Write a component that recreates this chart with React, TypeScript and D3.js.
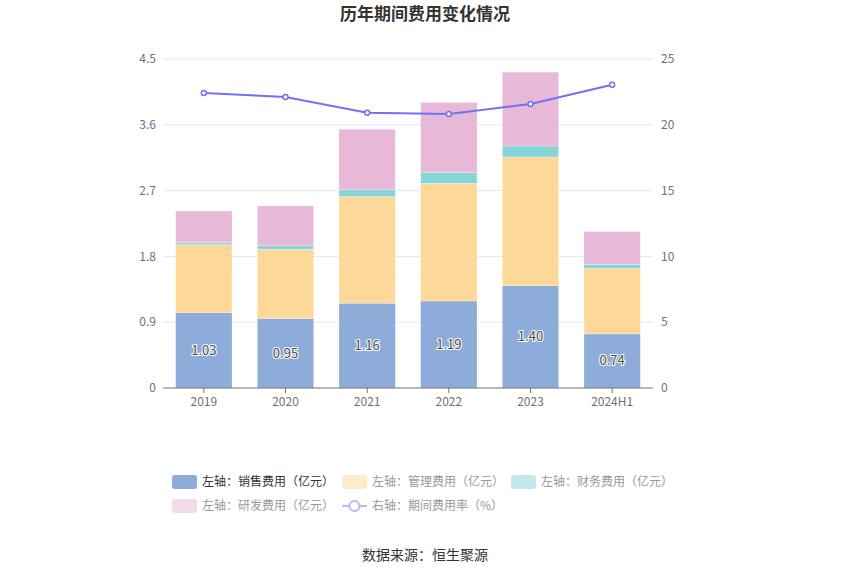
import React from 'react';
import * as d3 from 'd3';

const years = ['2019', '2020', '2021', '2022', '2023', '2024H1'];
const sales = [1.03, 0.95, 1.16, 1.19, 1.4, 0.74];
const admin = [0.93, 0.95, 1.46, 1.61, 1.76, 0.9];
const finance = [0.03, 0.05, 0.09, 0.145, 0.15, 0.05];
const rnd = [0.43, 0.54, 0.83, 0.96, 1.01, 0.45];
const rate = [22.42, 22.11, 20.92, 20.82, 21.58, 23.05];
const leftTicks = [0, 0.9, 1.8, 2.7, 3.6, 4.5];
const rightTicks = [0, 5, 10, 15, 20, 25];

const seriesNames = ['左轴：销售费用（亿元）', '左轴：管理费用（亿元）', '左轴：财务费用（亿元）', '左轴：研发费用（亿元）'];
const colors = ['#8eacd9', '#fdd899', '#84d4d8', '#e8b8d9'];
const fadedColors = ['#8eacd9', '#feebcc', '#c1e9eb', '#f3dbec'];
const lineColor = '#7073f0';
const font = '"Noto Sans CJK SC", "Noto Sans", sans-serif';

const App: React.FC = () => {
  const width = 850;
  const height = 575;
  const left = 163;
  const right = 653;
  const top = 59;
  const bottom = 388;

  const x = d3.scaleBand<string>().domain(years).range([left, right]).paddingInner(0.31).paddingOuter(0.155);
  const y = d3.scaleLinear().domain([0, 4.5]).range([bottom, top]);
  const y2 = d3.scaleLinear().domain([0, 25]).range([bottom, top]);

  const stackData = years.map((yr, i) => ({ yr, s0: sales[i], s1: admin[i], s2: finance[i], s3: rnd[i] }));
  const stacked = d3.stack<any>().keys(['s0', 's1', 's2', 's3'])(stackData);

  const cx = (yr: string) => (x(yr) as number) + x.bandwidth() / 2;

  const line = d3
    .line<number>()
    .x((_, i) => cx(years[i]))
    .y((d) => y2(d));

  const legendItems = [
    { x: 172, y: 482, i: 0 },
    { x: 342, y: 482, i: 1 },
    { x: 511, y: 482, i: 2 },
    { x: 172, y: 506, i: 3 },
  ];

  return (
    <svg width={width} height={height} style={{ position: 'absolute', left: 0, top: 0, fontFamily: font }}>
      <rect width={width} height={height} fill='#fff' />
      <text x={425} y={20} textAnchor='middle' fontSize={17} fontWeight='bold' fill='#333'>
        历年期间费用变化情况
      </text>

      {leftTicks.map((t) => (
        <g key={'g' + t}>
          {t > 0 && <line x1={left} x2={right} y1={y(t)} y2={y(t)} stroke='#e0e6f1' />}
          <text x={156} y={y(t)} dy='0.35em' textAnchor='end' fontSize={12} fill='#6e7079'>
            {t === 0 ? '0' : t.toFixed(1)}
          </text>
        </g>
      ))}
      {rightTicks.map((t) => (
        <text key={'r' + t} x={661} y={y2(t)} dy='0.35em' textAnchor='start' fontSize={12} fill='#6e7079'>
          {t}
        </text>
      ))}

      {stacked.map((layer, k) => (
        <g key={'l' + k}>
          {layer.map((d, i) => (
            <rect
              key={i}
              x={x(years[i])}
              width={x.bandwidth()}
              y={y(d[1])}
              height={y(d[0]) - y(d[1])}
              fill={colors[k]}
              stroke='#ffffff'
              strokeOpacity={0.5}
              strokeWidth={0.5}
            />
          ))}
        </g>
      ))}

      <line x1={left} x2={right} y1={bottom} y2={bottom} stroke='#6e7079' />
      {years.map((yr) => (
        <g key={'x' + yr}>
          <line x1={cx(yr)} x2={cx(yr)} y1={bottom} y2={bottom + 5} stroke='#6e7079' />
          <text x={cx(yr)} y={bottom + 18} textAnchor='middle' fontSize={12} fill='#6e7079'>
            {yr}
          </text>
        </g>
      ))}

      {sales.map((v, i) => (
        <text
          key={'lab' + i}
          x={cx(years[i])}
          y={(y(0) + y(v)) / 2}
          dy='0.35em'
          textAnchor='middle'
          fontSize={13}
          fill='#4a4a4a'
          stroke='#fff'
          strokeWidth={2}
          paintOrder='stroke'
        >
          {v.toFixed(2)}
        </text>
      ))}

      <path d={line(rate) as string} fill='none' stroke={lineColor} strokeWidth={2} />
      {rate.map((v, i) => (
        <circle key={'c' + i} cx={cx(years[i])} cy={y2(v)} r={2.5} fill='#fff' stroke={lineColor} strokeWidth={1.5} />
      ))}

      {legendItems.map(({ x: lx, y: ly, i }) => (
        <g key={'leg' + i}>
          <rect x={lx} y={ly - 7} width={25} height={14} rx={3} fill={fadedColors[i]} />
          <text x={lx + 30} y={ly} dy='0.35em' fontSize={12} fill={i === 0 ? '#333' : '#999'}>
            {seriesNames[i]}
          </text>
        </g>
      ))}
      <g>
        <line x1={342} x2={367} y1={506} y2={506} stroke='#b8b9f8' strokeWidth={2} />
        <circle cx={354.5} cy={506} r={5} fill='#fff' stroke='#b8b9f8' strokeWidth={2} />
        <text x={372} y={506} dy='0.35em' fontSize={12} fill='#999'>
          右轴：期间费用率（%）
        </text>
      </g>

      <text x={425} y={555} dy='0.35em' textAnchor='middle' fontSize={14} fill='#333'>
        数据来源：恒生聚源
      </text>
    </svg>
  );
};

export default App;
